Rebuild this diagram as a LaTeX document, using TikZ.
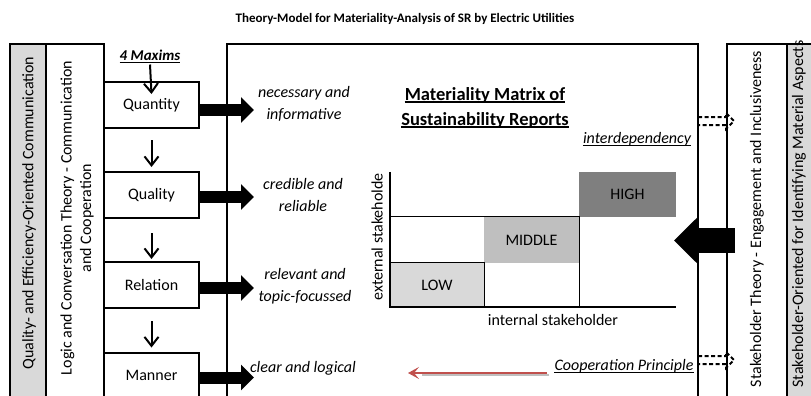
\documentclass[tikz,border=0pt]{standalone}
\usepackage{fontspec}
\setmainfont{Carlito}
\usetikzlibrary{arrows.meta,calc}
\definecolor{lightfill}{HTML}{D9D9D9}
\definecolor{midfill}{HTML}{BFBFBF}
\definecolor{darkfill}{HTML}{7F7F7F}
\definecolor{coopred}{HTML}{C0504D}

\begin{document}
\begin{tikzpicture}[x=1pt,y=-1pt,
  txt/.style={inner sep=0pt, align=center, font=\fontsize{16}{19.5}\selectfont},
  ital/.style={inner sep=0pt, align=center, font=\fontsize{16}{22}\selectfont\itshape},
  frame/.style={draw=black, line width=2pt},
  maxim/.style={frame, minimum width=95pt, minimum height=46pt, inner sep=0pt,
                font=\fontsize{16}{19.5}\selectfont},
  cell/.style={inner sep=0pt, font=\fontsize{16}{19.5}\selectfont},
  heading/.style={inner sep=0pt, font=\fontsize{18.5}{23}\selectfont\bfseries},
  uline/.style={line width=1.1pt},
  down/.style={line width=2pt, -{Straight Barb[length=9pt,width=14pt]}},
  block/.style={line width=12pt, -{Triangle[length=13pt,width=25pt]}},
  hollow/.style={line width=2pt, dash pattern=on 4pt off 2.5pt},
  thin/.style={line width=1.3pt},
  axis/.style={line width=2pt}
]
\path[use as bounding box] (0,0) rectangle (811,396);
\clip (0,0) rectangle (811,396);
\fill[white] (0,0) rectangle (811,396);

% heading
\node[font=\fontsize{13}{16}\selectfont\bfseries] (title) at (405,19)
  {Theory-Model for Materiality-Analysis of SR by Electric Utilities};

% outer columns
\draw[frame, fill=lightfill] (10,44) rectangle (46,410);
\draw[frame] (46,44) rectangle (104,410);
\draw[frame] (227,44) rectangle (698,410);
\draw[frame] (727,44) rectangle (787,410);
\draw[frame, fill=lightfill] (787,44) rectangle (830,410);

\node[txt, rotate=90] (commtheme) at (29,213)
  {Quality- and Efficiency-Oriented Communication};
\node[txt, rotate=90] (logic) at (77,218)
  {Logic and Conversation Theory - Communication\\and Cooperation};
\node[txt, rotate=90] (stake) at (757,219)
  {Stakeholder Theory - Engagement and Inclusiveness};
\node[txt, rotate=90] (orient) at (799,214)
  {Stakeholder-Oriented for Identifying Material Aspects};

% the four maxims
\node[inner sep=0pt, font=\fontsize{15}{18}\selectfont\bfseries\itshape] (maxims) at (150,55) {4 Maxims};
\draw[uline] ([yshift=-2pt]maxims.base west) -- ([yshift=-2pt]maxims.base east);

\node[maxim] (quantity) at (151.5,105) {Quantity};
\node[maxim] (quality)  at (151.5,195) {Quality};
\node[maxim] (relation) at (151.5,285) {Relation};
\node[maxim] (manner)   at (151.5,375.5) {Manner};

\draw[down] ([yshift=-4pt]maxims.south) -- ([yshift=-13pt]quantity.north);
\draw[down] ([yshift=-11pt]quantity.south) -- ([yshift=4pt]quality.north);
\draw[down] ([yshift=-14pt]quality.south) -- ([yshift=2pt]relation.north);
\draw[down] ([yshift=-12pt]relation.south) -- ([yshift=4pt]manner.north);

% what each maxim asks of a report
\node[ital] (necessary) at (304,104) {necessary and\\informative};
\node[ital] (credible)  at (303,195) {credible and\\reliable};
\node[ital] (relevant)  at (305,286) {relevant and\\topic-focussed};
\node[ital] (clear)     at (303,368) {clear and logical};

\coordinate (tipline) at (254,0);
\path ([yshift=-5pt]quantity.east) coordinate (qa)
      ([yshift=-2pt]quality.east)  coordinate (qb)
      ([yshift=-3pt]relation.east) coordinate (qc)
      ([yshift=-2pt]manner.east)   coordinate (qd);
\draw[block] (qa) -- (qa -| tipline);
\draw[block] (qb) -- (qb -| tipline);
\draw[block] (qc) -- (qc -| tipline);
\draw[block] (qd) -- (qd -| tipline);

% materiality matrix
\node[heading] (mhead1) at (485,95) {Materiality Matrix of};
\node[heading] (mhead2) at (485,120) {Sustainability Reports};
\draw[uline] ([yshift=-2pt]mhead1.base west) -- ([yshift=-2pt]mhead1.base east);
\draw[uline] ([yshift=-2pt]mhead2.base west) -- ([yshift=-2pt]mhead2.base east);

\node[ital] (interdep) at (637,139) {interdependency};
\draw[uline] ([yshift=-2pt]interdep.base west) -- ([yshift=-2pt]interdep.base east);

\node[cell, fill=lightfill, minimum width=94pt, minimum height=44pt] (low) at (437,285) {LOW};
\node[cell, fill=midfill, minimum width=95pt, minimum height=46pt] (middle) at (531.5,240) {MIDDLE};
\node[cell, fill=darkfill, minimum width=97pt, minimum height=45pt] (high) at (627.5,194.5) {HIGH};

\draw[thin] (low.north west) -| (low.south east);
\draw[thin] (middle.north west -| low.west) -| (middle.east |- low.south);
\draw[axis] (low.west |- high.north) -- (low.south west) -- (high.east |- low.south);

\node[txt, rotate=90] (extlab) at (377,237) {external stakeholde};
\node[txt] (intlab) at (553,320) {internal stakeholder};

% cooperation principle
\node[ital] (coop) at (624,366) {Cooperation Principle};
\draw[uline] ([yshift=-2pt]coop.base west) -- ([yshift=-2pt]coop.base east);
\coordinate (redtail) at (547,373);
\coordinate (redtip) at (408,373);
\draw[black!25, line width=2.5pt] ([shift={(2pt,-2pt)}]redtail) -- ([shift={(14pt,-2pt)}]redtip);
\draw[coopred, line width=2.5pt, -{Stealth[length=11pt,width=12pt,inset=5pt]}] (redtail) -- (redtip);

% stakeholder side
\coordinate (bigtail) at (735,240.5);
\coordinate (bigtip) at (674,240.5);
\draw[line width=25pt, -{Triangle[length=24pt,width=46pt]}] (bigtail) -- (bigtip);

\draw[hollow] (698,117) -- (726,117) -- (726,113) -- (734,121) -- (726,129) -- (726,125) -- (698,125);
\draw[hollow] (698,356) -- (726,356) -- (726,352) -- (734,360) -- (726,368) -- (726,364) -- (698,364);
\end{tikzpicture}
\end{document}
